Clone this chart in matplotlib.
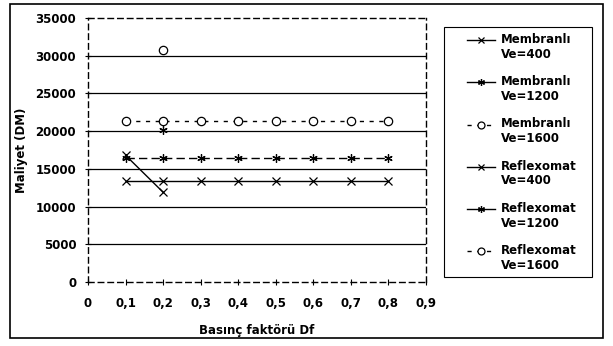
import numpy as np
import matplotlib
matplotlib.use("Agg")
import matplotlib.pyplot as plt
from matplotlib.patches import Rectangle

plt.rcParams['font.family'] = ['DejaVu Sans']
plt.rcParams['font.weight'] = 'bold'

# data
df_x = [0.1, 0.2, 0.3, 0.4, 0.5, 0.6, 0.7, 0.8]
membranli_400 = [13400] * 8
membranli_1200 = [16500] * 8
membranli_1600 = [21300] * 8
reflex_x_400 = [0.1, 0.2]
reflex_400 = [16800, 11900]
reflex_x_1200 = [0.2]
reflex_1200 = [20100]
reflex_x_1600 = [0.2]
reflex_1600 = [30800]

labels = ["Membranlı\nVe=400", "Membranlı\nVe=1200", "Membranlı\nVe=1600",
          "Reflexomat\nVe=400", "Reflexomat\nVe=1200", "Reflexomat\nVe=1600"]

asterisk = (6, 2, 0)
fs = 8.5

fig = plt.figure(figsize=(6.13, 3.46), dpi=100)
ax = fig.add_axes([88 / 613, 1 - 282 / 346, (426 - 88) / 613, (282 - 18) / 346])

# outer frame around the whole chart
fig.patches.append(Rectangle((10 / 613, 8 / 346), 593 / 613, 334 / 346, transform=fig.transFigure,
                             fill=False, edgecolor='black', linewidth=1.2))
# legend frame
fig.patches.append(Rectangle((444 / 613, 1 - 277 / 346), 148 / 613, 250 / 346, transform=fig.transFigure,
                             fill=False, edgecolor='black', linewidth=0.8))

for yv in range(5000, 35000, 5000):
    ax.axhline(yv, color='black', linewidth=0.9, zorder=1)

kw = dict(color='black', linewidth=1, markersize=6, markeredgewidth=0.9, zorder=3)
ax.plot(df_x, membranli_400, marker='x', linestyle='-', label=labels[0], **kw)
ax.plot(df_x, membranli_1200, marker=asterisk, linestyle=(0, (6, 3)), label=labels[1], **kw)
ax.plot(df_x, membranli_1600, marker='o', markerfacecolor='white', linestyle=(0, (3, 4)),
        label=labels[2], **kw)
ax.plot(reflex_x_400, reflex_400, marker='x', linestyle='-', label=labels[3], **kw)
ax.plot(reflex_x_1200, reflex_1200, marker=asterisk, linestyle='-', label=labels[4], **kw)
ax.plot(reflex_x_1600, reflex_1600, marker='o', markerfacecolor='white', linestyle=(0, (3, 4)),
        label=labels[5], **kw)

ax.set_xlim(0, 0.9)
ax.set_ylim(0, 35000)
ax.set_xticks(np.arange(0, 0.95, 0.1))
ax.set_xticklabels(["0", "0,1", "0,2", "0,3", "0,4", "0,5", "0,6", "0,7", "0,8", "0,9"], fontsize=fs)
ax.set_yticks(range(0, 35001, 5000))
ax.set_yticklabels([str(v) for v in range(0, 35001, 5000)], fontsize=fs)
ax.tick_params(axis='y', direction='inout', length=5, width=0.8, pad=6)
ax.tick_params(axis='x', direction='inout', length=4, width=0.8, pad=9)

for s in ax.spines.values():
    s.set_linestyle((0, (4, 3)))
    s.set_linewidth(1)

ax.set_ylabel("Maliyet (DM)", fontsize=fs, fontweight='bold', labelpad=5)
ax.set_xlabel("Basınç faktörü Df", fontsize=fs, fontweight='bold', labelpad=10)

leg = ax.legend(loc='upper left', bbox_to_anchor=(467 / 613, 1 - 33 / 346), bbox_transform=fig.transFigure,
                fontsize=fs, frameon=False, handlelength=2.4, borderpad=0, borderaxespad=0,
                labelspacing=1.2, handletextpad=0.5)
for h in leg.legend_handles:
    h.set_markersize(5)
    h.set_ydata(np.asarray(h.get_ydata()) + 5.5)
leg.legend_handles[1].set_linestyle('-')

fig.savefig("out.png", dpi=100)
